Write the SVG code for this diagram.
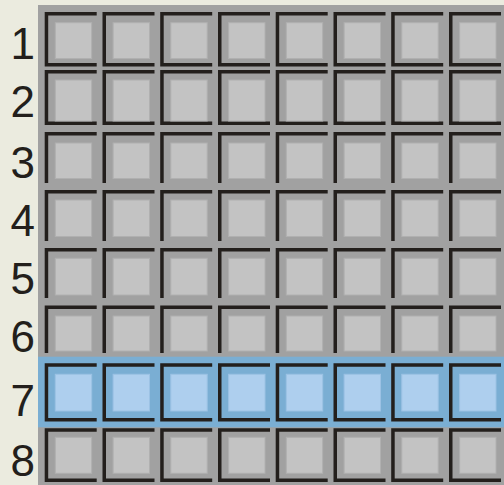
<svg xmlns="http://www.w3.org/2000/svg" xmlns:xlink="http://www.w3.org/1999/xlink" width="504" height="485" viewBox="0 0 504 485">
<style>
.br{fill:none;stroke:#231f1c;stroke-width:3.5;stroke-linejoin:miter}
.in{fill:#c3c3c3;stroke:#b0b0b0;stroke-width:1}
.inb{fill:#aecfee;stroke:#9cc2e4;stroke-width:1}
.lb{font-family:"Liberation Sans",Arial,sans-serif;font-size:44px;fill:#231f1c;text-anchor:end}
</style>
<defs>
<g id="c1"><path class="br" d="M52,13.75H1.75V64.75H52"/><rect class="in" x="10.6" y="22.7" width="36.4" height="35.8"/></g>
<g id="c2"><path class="br" d="M52,71.75H1.75V123.25H52"/><rect class="in" x="10.6" y="80" width="36.4" height="41"/></g>
<g id="c3"><path class="br" d="M52,133.75H1.75V183"/><rect class="in" x="10.6" y="143" width="36.4" height="35.5"/></g>
<g id="c4"><path class="br" d="M52,191.75H1.75V241"/><rect class="in" x="10.6" y="200" width="36.4" height="36.5"/></g>
<g id="c5"><path class="br" d="M52,249.75H1.75V298"/><rect class="in" x="10.6" y="258.3" width="36.4" height="36.7"/></g>
<g id="c6"><path class="br" d="M52,307.25H1.75V353"/><rect class="in" x="10.6" y="316" width="36.4" height="35"/></g>
<g id="c7"><path class="br" d="M52,365H1.75V419.75H52"/><rect class="inb" x="10.6" y="374.3" width="36.4" height="36.7"/></g>
<g id="c8"><path class="br" d="M52,430H1.75V480.25H52"/><rect class="in" x="10.6" y="437.3" width="36.4" height="36"/></g>
</defs>
<rect x="0" y="0" width="504" height="485" fill="#ebebdf"/>
<rect id="panel" x="38" y="5" width="466" height="480" fill="#a1a1a1"/>
<rect id="highlight" x="38" y="356.7" width="466" height="70.6" fill="#7aaed3"/>
<g id="labels">
<text class="lb" x="35" y="59">1</text>
<text class="lb" x="35" y="117">2</text>
<text class="lb" x="35" y="178">3</text>
<text class="lb" x="35" y="236">4</text>
<text class="lb" x="35" y="294">5</text>
<text class="lb" x="35" y="352">6</text>
<text class="lb" x="35" y="416">7</text>
<text class="lb" x="35" y="476">8</text>
</g>
<g id="row1"><use href="#c1" x="44.7"/><use href="#c1" x="102.5"/><use href="#c1" x="160.2"/><use href="#c1" x="218"/><use href="#c1" x="275.7"/><use href="#c1" x="333.5"/><use href="#c1" x="391.2"/><use href="#c1" x="449"/></g>
<g id="row2"><use href="#c2" x="44.7"/><use href="#c2" x="102.5"/><use href="#c2" x="160.2"/><use href="#c2" x="218"/><use href="#c2" x="275.7"/><use href="#c2" x="333.5"/><use href="#c2" x="391.2"/><use href="#c2" x="449"/></g>
<g id="row3"><use href="#c3" x="44.7"/><use href="#c3" x="102.5"/><use href="#c3" x="160.2"/><use href="#c3" x="218"/><use href="#c3" x="275.7"/><use href="#c3" x="333.5"/><use href="#c3" x="391.2"/><use href="#c3" x="449"/></g>
<g id="row4"><use href="#c4" x="44.7"/><use href="#c4" x="102.5"/><use href="#c4" x="160.2"/><use href="#c4" x="218"/><use href="#c4" x="275.7"/><use href="#c4" x="333.5"/><use href="#c4" x="391.2"/><use href="#c4" x="449"/></g>
<g id="row5"><use href="#c5" x="44.7"/><use href="#c5" x="102.5"/><use href="#c5" x="160.2"/><use href="#c5" x="218"/><use href="#c5" x="275.7"/><use href="#c5" x="333.5"/><use href="#c5" x="391.2"/><use href="#c5" x="449"/></g>
<g id="row6"><use href="#c6" x="44.7"/><use href="#c6" x="102.5"/><use href="#c6" x="160.2"/><use href="#c6" x="218"/><use href="#c6" x="275.7"/><use href="#c6" x="333.5"/><use href="#c6" x="391.2"/><use href="#c6" x="449"/></g>
<g id="row7"><use href="#c7" x="44.7"/><use href="#c7" x="102.5"/><use href="#c7" x="160.2"/><use href="#c7" x="218"/><use href="#c7" x="275.7"/><use href="#c7" x="333.5"/><use href="#c7" x="391.2"/><use href="#c7" x="449"/></g>
<g id="row8"><use href="#c8" x="44.7"/><use href="#c8" x="102.5"/><use href="#c8" x="160.2"/><use href="#c8" x="218"/><use href="#c8" x="275.7"/><use href="#c8" x="333.5"/><use href="#c8" x="391.2"/><use href="#c8" x="449"/></g>
</svg>
